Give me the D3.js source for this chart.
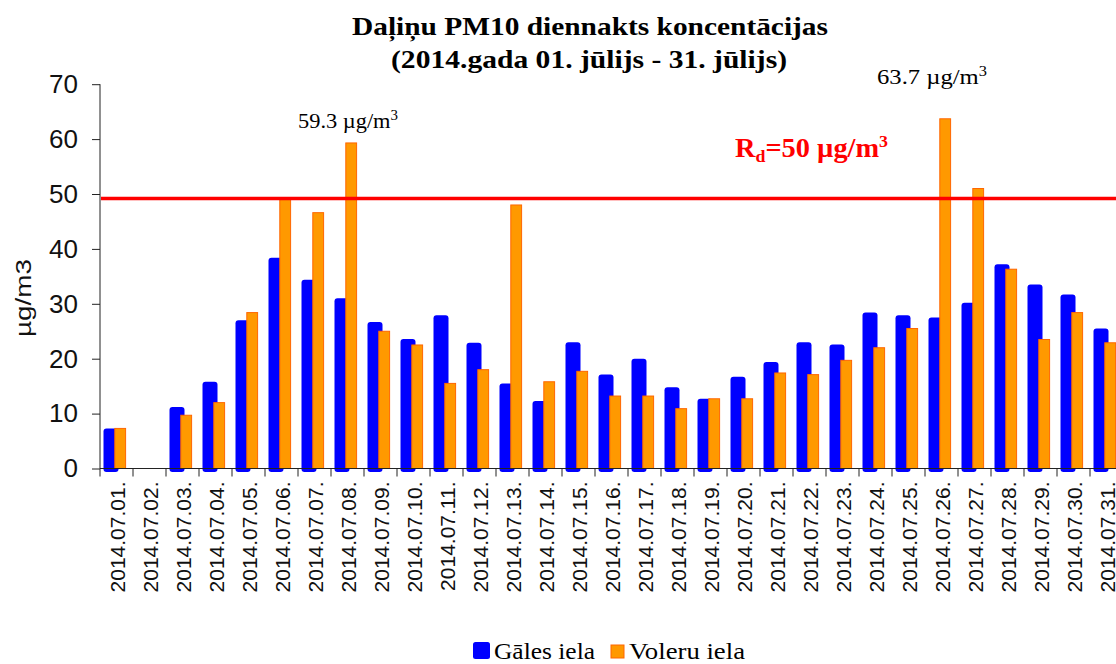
<!DOCTYPE html>
<html>
<head>
  <meta charset="UTF-8">
  <title>PM10 2014.07</title>
  <script src="https://d3js.org/d3.v7.min.js"></script>
  <style>
    body { margin: 0; background: #fff; }
    svg { display: block; }
  </style>
</head>
<body>
  <svg width="1116" height="664"></svg>

  <script>
    // dienas (kategorijas)
    const days = d3.range(1, 32).map(d => "2014.07." + String(d).padStart(2, "0") + ".");
    // Gāles iela, µg/m3 (07.02 - nav datu)
    const gales = [7.3, null, 11.2, 15.8, 27.0, 38.4, 34.4, 31.0, 26.7, 23.6,
                   27.9, 22.9, 15.5, 12.3, 23.0, 17.1, 20.0, 14.8, 12.7, 16.7,
                   19.4, 23.0, 22.6, 28.4, 27.9, 27.5, 30.2, 37.2, 33.5, 31.7, 25.5];
    // Voleru iela, µg/m3
    const voleru = [7.3, null, 9.7, 12.0, 28.4, 49.0, 46.6, 59.3, 25.0, 22.5,
                    15.5, 18.0, 48.0, 15.8, 17.7, 13.2, 13.2, 10.9, 12.7, 12.7,
                    17.4, 17.1, 19.7, 22.0, 25.5, 63.7, 51.0, 36.3, 23.5, 28.4, 22.9];
    const yTicks = [0, 10, 20, 30, 40, 50, 60, 70];
    const limitLine = 49.2;

    const svg = d3.select("svg");
    const serif = "'Liberation Serif', 'Times New Roman', serif";
    const sans = "'Liberation Sans', Arial, sans-serif";

    const x = d3.scaleBand().domain(days).range([100, 1123]).padding(0);
    const y = d3.scaleLinear().domain([0, 70]).range([468.5, 84.2]);

    // bars
    svg.append("g")
      .selectAll("rect")
      .data(gales.map((v, i) => ({ v, d: days[i] })).filter(d => d.v != null))
      .join("rect")
      .attr("x", d => x(d.d) + 3.5)
      .attr("width", 15)
      .attr("y", d => y(d.v))
      .attr("height", d => y(0) - y(d.v) + 3.5)
      .attr("rx", 3)
      .attr("fill", "#0000ff");

    svg.append("g")
      .selectAll("rect")
      .data(voleru.map((v, i) => ({ v, d: days[i] })).filter(d => d.v != null))
      .join("rect")
      .attr("x", d => x(d.d) + 14.8)
      .attr("width", 10.8)
      .attr("y", d => y(d.v))
      .attr("height", d => y(0) - y(d.v))
      .attr("fill", "#ff9900")
      .attr("stroke", "#ff6600")
      .attr("stroke-width", 1);

    // y axis
    const yAxis = svg.append("g")
      .attr("transform", "translate(100,0)")
      .call(d3.axisLeft(y).tickValues(yTicks).tickSize(8).tickPadding(14));
    yAxis.select(".domain").attr("stroke", "#222").attr("d", `M0,${y(70)}V${y(0)}`);
    yAxis.selectAll(".tick line").attr("stroke", "#222");
    yAxis.selectAll("text")
      .attr("font-family", sans)
      .attr("font-size", 26)
      .attr("fill", "#111");

    // x axis
    const xAxis = svg.append("g")
      .attr("transform", `translate(0,${y(0)})`)
      .call(d3.axisBottom(x).tickSize(0).tickPadding(0));
    xAxis.select(".domain").attr("stroke", "#222").attr("d", "M100,0H1123");
    xAxis.selectAll(".tick line").remove();
    xAxis.selectAll(".tick text")
      .attr("font-family", sans)
      .attr("font-size", 21)
      .attr("fill", "#111")
      .attr("text-anchor", "end")
      .attr("dy", null)
      .attr("transform", "translate(8,13) rotate(-90)");
    svg.append("g")
      .attr("stroke", "#222")
      .selectAll("line")
      .data(days)
      .join("line")
      .attr("x1", d => x(d))
      .attr("x2", d => x(d))
      .attr("y1", y(0))
      .attr("y2", y(0) + 8);

    // y label
    svg.append("text")
      .attr("transform", "translate(31,298) rotate(-90)")
      .attr("text-anchor", "middle")
      .attr("font-family", sans)
      .attr("font-size", 22)
      .attr("textLength", 78)
      .attr("lengthAdjust", "spacingAndGlyphs")
      .attr("fill", "#111")
      .text("µg/m3");

    // limit line
    svg.append("line")
      .attr("x1", 101).attr("x2", 1123)
      .attr("y1", y(limitLine)).attr("y2", y(limitLine))
      .attr("stroke", "#ff0000")
      .attr("stroke-width", 3.5);

    // title
    const title = svg.append("g")
      .attr("font-family", serif)
      .attr("font-weight", "bold")
      .attr("font-size", 25)
      .attr("fill", "#000")
      .attr("text-anchor", "middle");
    title.append("text").attr("x", 590).attr("y", 35)
      .attr("textLength", 476).attr("lengthAdjust", "spacingAndGlyphs")
      .text("Daļiņu PM10 diennakts koncentācijas");
    title.append("text").attr("x", 589).attr("y", 68)
      .attr("textLength", 396).attr("lengthAdjust", "spacingAndGlyphs")
      .text("(2014.gada 01. jūlijs - 31. jūlijs)");

    // peak labels
    function peakLabel(idx, px, py, len) {
      const t = svg.append("text")
        .attr("x", px).attr("y", py)
        .attr("font-family", serif)
        .attr("font-size", 21)
        .attr("fill", "#000")
        .attr("textLength", len)
        .attr("lengthAdjust", "spacingAndGlyphs");
      t.append("tspan").text(voleru[idx].toFixed(1) + " µg/m");
      t.append("tspan").attr("font-size", 14).attr("dy", -8).text("3");
    }
    peakLabel(7, 298, 128, 100);
    peakLabel(25, 877, 84, 110);

    // limit label
    const rd = svg.append("text")
      .attr("x", 735).attr("y", 157)
      .attr("font-family", serif)
      .attr("font-weight", "bold")
      .attr("font-size", 27)
      .attr("fill", "#ff0000")
      .attr("textLength", 153)
      .attr("lengthAdjust", "spacingAndGlyphs");
    rd.append("tspan").text("R");
    rd.append("tspan").attr("font-size", 17).attr("dy", 5).text("d");
    rd.append("tspan").attr("dy", -5).text("=50 µg/m");
    rd.append("tspan").attr("font-size", 17).attr("dy", -10).text("3");

    // legend
    const legend = [
      { name: "Gāles iela", fill: "#0000ff", stroke: "none", x: 473, s: 17, top: 642, len: 101 },
      { name: "Voleru iela", fill: "#ff9900", stroke: "#ff6600", x: 611, s: 13, top: 645, len: 116 }
    ];
    const lg = svg.append("g").selectAll("g").data(legend).join("g");
    lg.append("rect")
      .attr("x", d => d.x)
      .attr("y", d => d.top)
      .attr("width", d => d.s)
      .attr("height", d => d.s)
      .attr("rx", d => d.s === 17 ? 2.5 : 0)
      .attr("fill", d => d.fill)
      .attr("stroke", d => d.stroke);
    lg.append("text")
      .attr("x", d => d.x + d.s + (d.s === 17 ? 4 : 5))
      .attr("y", 659)
      .attr("font-family", serif)
      .attr("font-size", 23)
      .attr("fill", "#000")
      .attr("textLength", d => d.len)
      .attr("lengthAdjust", "spacingAndGlyphs")
      .text(d => d.name);
  </script>
</body>
</html>
